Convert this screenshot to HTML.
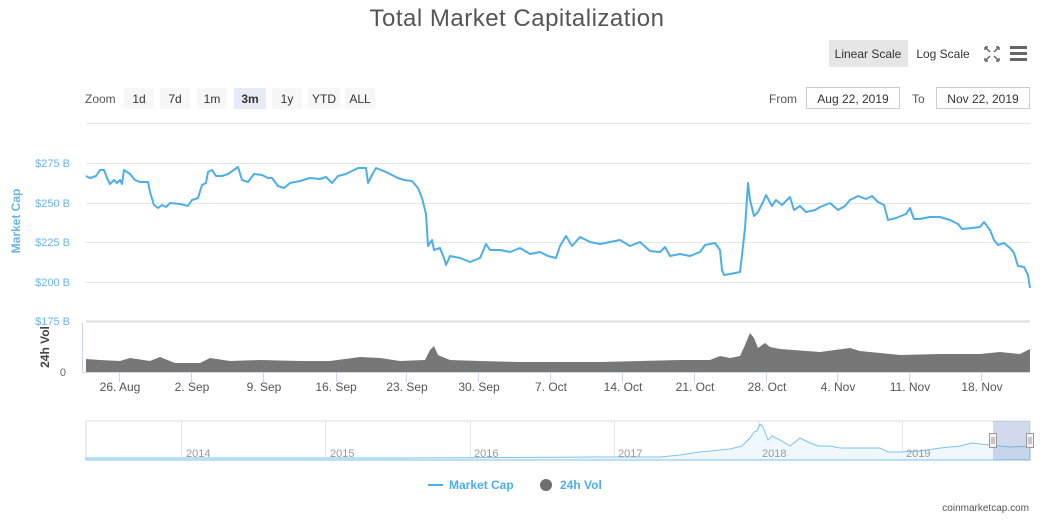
<!DOCTYPE html>
<html><head><meta charset="utf-8"><style>
body{margin:0;background:#fff;font-family:"Liberation Sans",sans-serif;}
svg text{font-family:"Liberation Sans",sans-serif;}
</style></head><body>
<svg width="1044" height="520" xmlns="http://www.w3.org/2000/svg">
<rect width="1044" height="520" fill="#fff"/>
<text x="517" y="26" text-anchor="middle" font-size="24" fill="#555" letter-spacing="0.5">Total Market Capitalization</text>
<rect x="829" y="40" width="79" height="27" fill="#e6e6e6"/>
<text x="868" y="58" text-anchor="middle" font-size="12" fill="#333">Linear Scale</text>
<text x="943" y="58" text-anchor="middle" font-size="12" fill="#333">Log Scale</text>
<g stroke="#666" stroke-width="1.5" fill="none"><path d="M986 48l4 4M998 48l-4 4M986 60l4-4M998 60l-4-4"/><path d="M985 47h3M985 47v3M999 47h-3M999 47v3M985 61h3M985 61v-3M999 61h-3M999 61v-3"/></g>
<g fill="#666"><rect x="1010" y="46" width="17" height="3"/><rect x="1010" y="52" width="17" height="3"/><rect x="1010" y="58" width="17" height="3"/></g>
<text x="85" y="103" font-size="12" fill="#555">Zoom</text>
<g font-size="12" fill="#333" text-anchor="middle">
<rect x="124" y="88" width="30" height="21" fill="#f7f7f7"/><text x="139" y="103">1d</text>
<rect x="160" y="88" width="30" height="21" fill="#f7f7f7"/><text x="175" y="103">7d</text>
<rect x="197" y="88" width="30" height="21" fill="#f7f7f7"/><text x="212" y="103">1m</text>
<rect x="234" y="88" width="32" height="21" fill="#e6ebf5"/><text x="250" y="103" font-weight="bold">3m</text>
<rect x="272" y="88" width="30" height="21" fill="#f7f7f7"/><text x="287" y="103">1y</text>
<rect x="308" y="88" width="32" height="21" fill="#f7f7f7"/><text x="324" y="103">YTD</text>
<rect x="345" y="88" width="30" height="21" fill="#f7f7f7"/><text x="360" y="103">ALL</text>
</g>
<text x="769" y="103" font-size="12" fill="#555">From</text>
<rect x="806.5" y="87.5" width="93" height="21" fill="#fff" stroke="#ccc"/>
<text x="853" y="103" text-anchor="middle" font-size="12" fill="#333">Aug 22, 2019</text>
<text x="912" y="103" font-size="12" fill="#555">To</text>
<rect x="936.5" y="87.5" width="93" height="21" fill="#fff" stroke="#ccc"/>
<text x="983" y="103" text-anchor="middle" font-size="12" fill="#333">Nov 22, 2019</text>
<line x1="86" y1="123.5" x2="1030" y2="123.5" stroke="#e6e6e6"/>
<g stroke="#e6e6e6"><line x1="86" y1="163.5" x2="1030" y2="163.5"/><line x1="86" y1="203.5" x2="1030" y2="203.5"/><line x1="86" y1="242.5" x2="1030" y2="242.5"/><line x1="86" y1="282.5" x2="1030" y2="282.5"/><line x1="86" y1="321.5" x2="1030" y2="321.5" stroke="#ddd" stroke-width="2"/></g>
<g font-size="11" fill="#6cb4e8" text-anchor="end"><text x="70" y="167">$275 B</text><text x="70" y="207">$250 B</text><text x="70" y="246">$225 B</text><text x="70" y="286">$200 B</text><text x="70" y="325">$175 B</text></g>
<text x="20" y="221" transform="rotate(-90 20 221)" text-anchor="middle" font-size="12" font-weight="bold" fill="#6cb4e8">Market Cap</text>
<text x="49" y="347" transform="rotate(-90 49 347)" text-anchor="middle" font-size="12" font-weight="bold" fill="#444">24h Vol</text>
<text x="66" y="376" text-anchor="end" font-size="11" fill="#666">0</text>
<line x1="82.5" y1="323" x2="82.5" y2="372" stroke="#ccd6eb"/>
<path fill="#777" d="M86,372 L86,359 100,360 120,361 130,358 150,361 160,357 175,363 200,363 210,358 230,361 260,360 300,361 330,361 360,357 380,358 400,361 425,360 430,350 434,346 438,355 450,360 480,361 520,362 560,362 600,362 640,361 680,360 710,360 720,356 730,358 740,356 745,345 750,333 754,338 758,348 765,343 770,347 780,349 820,352 850,348 860,351 880,353 900,355 940,354 980,354 1000,352 1020,354 1030,349 L1030,372Z"/>
<path fill="none" stroke="#4eaee7" stroke-width="2" stroke-linejoin="round" d="M86,176 90,178 96,176 100,170 104,170 107,178 110,184 114,180 117,183 120,180 122,184 124,170 130,174 135,180 140,182 148,182 150,192 154,205 158,208 162,205 166,207 170,203 180,204 188,206 192,200 198,198 202,185 206,183 208,172 212,170 216,176 222,176 228,174 238,167 242,180 248,182 254,174 262,175 268,178 272,178 278,186 284,188 290,183 300,181 310,178 320,179 326,177 332,183 338,176 346,174 358,168 366,168 368,183 372,175 376,168 386,172 392,175 398,178 404,180 412,181 418,188 422,198 426,214 428,246 432,240 434,250 440,248 444,258 446,265 450,256 460,258 470,262 480,258 486,244 490,250 500,250 510,252 520,248 530,254 540,252 548,256 556,258 560,246 566,236 572,246 580,237 590,242 600,244 610,242 620,240 630,246 640,242 650,251 660,252 665,247 670,256 680,254 690,256 700,252 705,245 715,243 720,250 722,270 724,275 730,274 740,272 742,255 745,228 748,183 750,200 754,216 758,212 764,200 766,195 772,206 776,200 782,205 790,197 794,210 800,206 806,212 815,210 820,207 830,203 838,210 845,206 850,200 858,196 866,199 872,196 878,202 884,205 888,220 896,218 906,214 910,208 914,219 920,219 930,217 940,217 950,220 958,224 962,229 972,228 980,227 984,222 990,230 994,240 998,245 1004,243 1010,248 1014,253 1018,266 1024,267 1028,275 1030,288"/>
<line x1="82" y1="372.5" x2="1030" y2="372.5" stroke="#ccd6eb"/>
<g stroke="#ccd6eb"><line x1="119.5" y1="372" x2="119.5" y2="382"/><line x1="191.5" y1="372" x2="191.5" y2="382"/><line x1="263.5" y1="372" x2="263.5" y2="382"/><line x1="336.5" y1="372" x2="336.5" y2="382"/><line x1="406.5" y1="372" x2="406.5" y2="382"/><line x1="478.5" y1="372" x2="478.5" y2="382"/><line x1="550.5" y1="372" x2="550.5" y2="382"/><line x1="622.5" y1="372" x2="622.5" y2="382"/><line x1="694.5" y1="372" x2="694.5" y2="382"/><line x1="766.5" y1="372" x2="766.5" y2="382"/><line x1="837.5" y1="372" x2="837.5" y2="382"/><line x1="909.5" y1="372" x2="909.5" y2="382"/><line x1="981.5" y1="372" x2="981.5" y2="382"/></g>
<g font-size="12" fill="#555" text-anchor="middle"><text x="120" y="391">26. Aug</text><text x="192" y="391">2. Sep</text><text x="264" y="391">9. Sep</text><text x="336" y="391">16. Sep</text><text x="407" y="391">23. Sep</text><text x="479" y="391">30. Sep</text><text x="551" y="391">7. Oct</text><text x="623" y="391">14. Oct</text><text x="695" y="391">21. Oct</text><text x="767" y="391">28. Oct</text><text x="838" y="391">4. Nov</text><text x="910" y="391">11. Nov</text><text x="982" y="391">18. Nov</text></g>
<rect x="86" y="421" width="944" height="39" fill="#fff" stroke="#ddd"/>
<g stroke="#e6e6e6"><line x1="181.5" y1="421" x2="181.5" y2="460"/><line x1="325.5" y1="421" x2="325.5" y2="460"/><line x1="470.5" y1="421" x2="470.5" y2="460"/><line x1="614.5" y1="421" x2="614.5" y2="460"/><line x1="758.5" y1="421" x2="758.5" y2="460"/><line x1="902.5" y1="421" x2="902.5" y2="460"/></g>
<path fill="#f0f8fd" stroke="#7fc3ee" d="M86,458 L400,458 600,457 660,457 680,455 700,452 730,449 742,446 750,438 754,432 757,431 760,424 763,427 768,440 772,436 780,440 790,446 800,438 808,442 818,446 830,446 840,448 860,448 880,448 888,452 900,452 920,451 940,448 960,446 972,443 980,444 990,445 1000,446 1010,447 1030,446 L1030,460 86,460Z"/>
<g font-size="11" fill="#999"><text x="186" y="457">2014</text><text x="330" y="457">2015</text><text x="474" y="457">2016</text><text x="618" y="457">2017</text><text x="762" y="457">2018</text><text x="906" y="457">2019</text></g>
<rect x="993" y="421" width="37" height="39" fill="rgba(102,133,194,0.3)"/>
<g fill="#f2f2f2" stroke="#999"><rect x="989.5" y="433.5" width="7" height="14"/><rect x="1026.5" y="433.5" width="7" height="14"/></g>
<g stroke="#999"><line x1="992" y1="437" x2="992" y2="444"/><line x1="994" y1="437" x2="994" y2="444"/><line x1="1029" y1="437" x2="1029" y2="444"/><line x1="1031" y1="437" x2="1031" y2="444"/></g>
<line x1="428" y1="485" x2="443" y2="485" stroke="#4eaee7" stroke-width="2"/>
<text x="449" y="489" font-size="12" font-weight="bold" fill="#4eaee7">Market Cap</text>
<circle cx="546" cy="485" r="6" fill="#6f6f6f"/>
<text x="560" y="489" font-size="12" font-weight="bold" fill="#4eaee7">24h Vol</text>
<text x="1029" y="511" text-anchor="end" font-size="10" fill="#555">coinmarketcap.com</text>
</svg>
</body></html>
